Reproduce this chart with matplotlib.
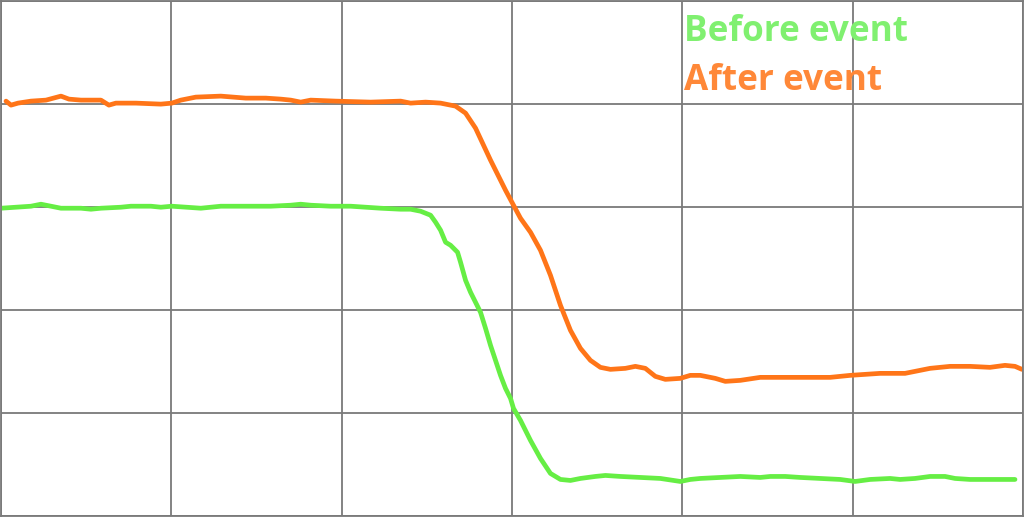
import matplotlib
matplotlib.use("Agg")
import matplotlib.pyplot as plt
import numpy as np

# Data in grid units: x from 0 to 6 (6 columns), y from 0 to 5 (5 rows)
# values (pixel px -> px/170.5, py -> (516-py)/103)
after_px = [5, 10, 17, 30, 45, 60, 68, 80, 100, 108, 115, 135, 160, 171, 180, 195, 220, 245, 265, 280,
            290, 300, 310, 335, 370, 400, 410, 425, 440, 455, 465, 475, 490, 505, 513, 520, 530, 540,
            550, 560, 570, 580, 590, 600, 610, 625, 635, 645, 655, 665, 680, 690, 700, 715, 725, 740,
            760, 800, 830, 850, 880, 905, 930, 950, 970, 990, 1005, 1015, 1022]
after_py = [101, 105, 103, 101, 100, 96, 99, 100, 100, 105, 103, 103, 104, 103, 100, 97, 96, 98, 98, 99,
            100, 102, 100, 101, 102, 101, 103, 102, 103, 106, 113, 128, 160, 190, 205, 218, 232, 250,
            275, 305, 330, 348, 360, 367, 369, 368, 366, 368, 376, 379, 378, 375, 375, 378, 381, 380,
            377, 377, 377, 375, 373, 373, 368, 366, 366, 367, 365, 366, 369]

before_px = [0, 15, 30, 40, 50, 60, 70, 80, 90, 100, 120, 130, 150, 160, 171, 200, 220, 240, 270, 290,
             300, 310, 330, 350, 380, 400, 410, 420, 430, 435, 440, 445, 450, 457, 460, 465, 470, 475,
             480, 485, 490, 495, 500, 505, 510, 513, 520, 530, 540, 550, 560, 570, 580, 595, 605, 620,
             640, 660, 680, 690, 700, 720, 740, 760, 770, 785, 800, 820, 840, 855, 870, 890, 900, 915,
             930, 945, 955, 970, 1000, 1015]
before_py = [208, 207, 206, 204, 206, 208, 208, 208, 209, 208, 207, 206, 206, 207, 206, 208, 206, 206,
             206, 205, 204, 205, 206, 206, 208, 209, 209, 211, 215, 222, 230, 242, 245, 252, 262, 280,
             292, 302, 312, 328, 345, 360, 375, 388, 398, 408, 420, 440, 458, 473, 479, 480, 478, 476,
             475, 476, 477, 478, 481, 479, 478, 477, 476, 477, 476, 476, 477, 478, 479, 481, 479, 478,
             479, 478, 476, 476, 478, 479, 479, 479]

after_x = np.array(after_px) / 170.5
after_y = (516 - np.array(after_py)) / 103.0
before_x = np.array(before_px) / 170.5
before_y = (516 - np.array(before_py)) / 103.0

fig = plt.figure(figsize=(10.24, 5.17), dpi=100)
ax = fig.add_axes([0.001, 0.001, 0.998, 0.997])
ax.set_xlim(0, 6)
ax.set_ylim(0, 5)
ax.set_xticks(np.arange(0, 7))
ax.set_yticks(np.arange(0, 6))
ax.grid(True, color="#7a7a7a", linewidth=1.3)
ax.tick_params(length=0, labelbottom=False, labelleft=False)
for s in ax.spines.values():
    s.set_color("#7a7a7a")
    s.set_linewidth(1.3)
ax.set_axisbelow(True)

ax.plot(before_x, before_y, color="#66ee44", linewidth=3.4, solid_capstyle="round")
ax.plot(after_x, after_y, color="#ff7518", linewidth=3.4, solid_capstyle="round")

ax.text(684 / 170.5, (516 - 41) / 103.0, "Before event", color="#80f070", fontsize=25.3,
        fontweight="bold", family=["Open Sans", "DejaVu Sans"], va="baseline", ha="left")
ax.text(684 / 170.5, (516 - 90) / 103.0, "After event", color="#ff8838", fontsize=25.3,
        fontweight="bold", family=["Open Sans", "DejaVu Sans"], va="baseline", ha="left")

fig.savefig("out.png", dpi=100, facecolor="white")
